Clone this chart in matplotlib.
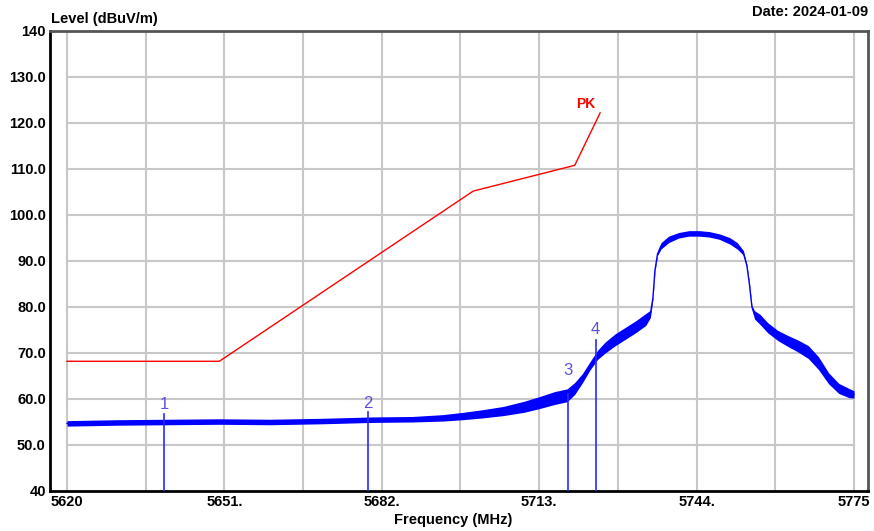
import matplotlib
matplotlib.use("Agg")
import matplotlib.pyplot as plt
import numpy as np

plt.rcParams["font.family"] = ["Liberation Sans", "DejaVu Sans"]

freq = [5620, 5630, 5640, 5650, 5660, 5670, 5680, 5688, 5694, 5698, 5702, 5706,
        5710, 5713, 5716, 5718.5, 5720, 5721.5, 5723, 5724.5, 5726, 5728, 5730,
        5732, 5734, 5734.9, 5735.4, 5735.8, 5736.3, 5737, 5738.5, 5740.5, 5742.5,
        5744.5, 5746.5, 5748.5, 5750.5, 5752, 5753.2, 5753.9, 5754.4, 5754.9,
        5755.4, 5756.5, 5758, 5760, 5762, 5764, 5766, 5768, 5770, 5772, 5774, 5775]
level = [54.7, 54.9, 55.0, 55.1, 55.0, 55.2, 55.5, 55.6, 55.9, 56.3, 56.8, 57.4,
         58.3, 59.2, 60.2, 60.8, 62.3, 64.5, 67.2, 69.6, 71.2, 72.9, 74.3,
         75.7, 77.3, 78.5, 82.0, 88.0, 91.5, 93.3, 94.7, 95.6, 96.0,
         96.0, 95.8, 95.3, 94.4, 93.3, 91.8, 89.0, 85.0, 80.0,
         78.3, 77.3, 75.5, 73.8, 72.6, 71.5, 70.2, 67.8, 64.5, 62.3, 61.3, 61.0]
noise = [0.6, 0.6, 0.6, 0.6, 0.6, 0.6, 0.6, 0.6, 0.7, 0.8, 0.9, 1.0,
         1.2, 1.3, 1.4, 1.4, 1.3, 1.0, 0.9, 1.0, 1.2, 1.3, 1.3,
         1.3, 1.3, 0.8, 0.3, 0.3, 0.3, 0.7, 0.7, 0.6, 0.6,
         0.6, 0.6, 0.6, 0.7, 0.7, 0.5, 0.3, 0.3, 0.3,
         0.9, 1.1, 1.1, 1.1, 1.2, 1.3, 1.4, 1.4, 1.2, 1.1, 1.0, 0.8]

# PK limit line
lim_freq = [5620, 5650, 5700, 5720, 5725]
lim_level = [68.2, 68.2, 105.2, 110.8, 122.2]

# markers
mk_freq = [5639.1, 5679.3, 5718.7, 5724.1]
mk_level = [56.8, 57.2, 61.0, 72.9]
mk_names = ["1", "2", "3", "4"]

xticks = [5620, 5651, 5682, 5713, 5744, 5775]
xticklabels = ["5620", "5651.", "5682.", "5713.", "5744.", "5775"]
yticks = list(range(40, 150, 10))
yticklabels = ["40"] + [f"{v:.1f}" for v in yticks[1:-1]] + ["140"]

fig = plt.figure(figsize=(8.74, 5.31), dpi=100)
ax = fig.add_axes([50 / 874, 1 - 491 / 531, 818 / 874, 460 / 531])
ax.set_xlim(5616.65, 5777.76)
ax.set_ylim(40, 140)

# grid only within the data span
for gx in np.arange(5620, 5775.01, 15.5):
    ax.plot([gx, gx], [40, 140], color="#c8c8c8", lw=1.5, zorder=0)
for gy in yticks[1:-1]:
    ax.plot([5620, 5775], [gy, gy], color="#c8c8c8", lw=1.5, zorder=0)

f = np.array(freq)
lv = np.array(level)
nz = np.array(noise)
ax.fill_between(f, lv - nz, lv + nz, color="#0000ff", lw=0, zorder=2)
ax.plot(f, lv, color="#0000ff", lw=1.0, zorder=3)

ax.plot(lim_freq, lim_level, color="#ff0000", lw=1.0, zorder=3)
ax.text(5722.2, 124.2, "PK", color="#ff0000", fontsize=10, fontweight="bold",
        ha="center", va="center")

# label heights above each marker tip (marker 3 sits clear of the noisy slope)
label_offset = [2.1, 1.9, 5.2, 2.1]
for mf, ml, name, off in zip(mk_freq, mk_level, mk_names, label_offset):
    ax.plot([mf, mf], [40, ml], color="#2a2aff", lw=1.2, zorder=4)
    ax.text(mf, ml + off, name, color="#5a50e0", fontsize=12,
            ha="center", va="center", zorder=5)

ax.set_xticks(xticks)
ax.set_xticklabels(xticklabels)
ax.set_yticks(yticks)
ax.set_yticklabels(yticklabels)
ax.tick_params(length=0, labelsize=10.5, pad=3)
for lab in ax.get_xticklabels() + ax.get_yticklabels():
    lab.set_fontweight("bold")

for side in ("left", "bottom"):
    ax.spines[side].set_color("black")
    ax.spines[side].set_linewidth(2)
for side in ("top", "right"):
    ax.spines[side].set_color("#555555")
    ax.spines[side].set_linewidth(2)

fig.text(51 / 874, 1 - 19 / 531, "Level (dBuV/m)", fontsize=10.5,
         fontweight="bold", ha="left", va="center")
fig.text(868 / 874, 1 - 12 / 531, "Date: 2024-01-09", fontsize=10.5,
         fontweight="bold", ha="right", va="center")
fig.text(453 / 874, 1 - 520 / 531, "Frequency (MHz)", fontsize=10.5,
         fontweight="bold", ha="center", va="center")

fig.savefig("out.png", dpi=100)
